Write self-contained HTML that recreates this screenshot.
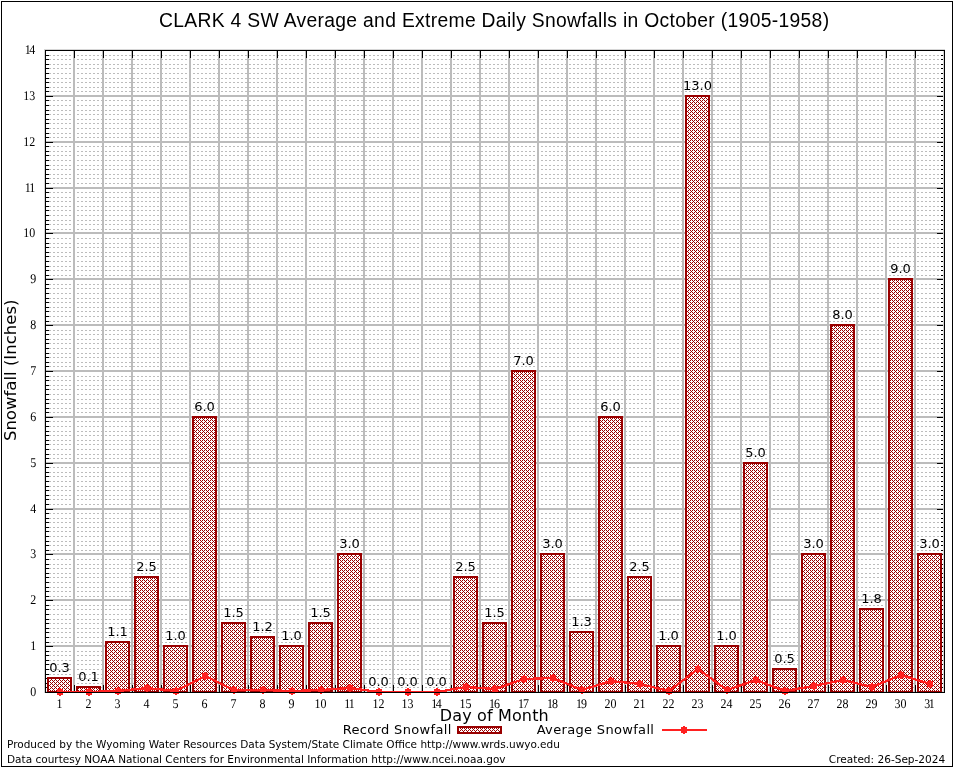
<!DOCTYPE html>
<html lang="en"><head><meta charset="utf-8"><title>CLARK 4 SW Average and Extreme Daily Snowfalls in October (1905-1958)</title>
<style>html,body{margin:0;padding:0;background:#fff}body{width:954px;height:768px;overflow:hidden}svg{display:block}.se{font-family:"Liberation Serif",serif;font-size:13.3px;fill:#000;text-rendering:geometricPrecision}.dj{font-family:"DejaVu Sans","Liberation Sans",sans-serif;fill:#000}.ti{font-family:"Liberation Sans",sans-serif;font-size:19.3px;letter-spacing:0.325px;fill:#000}</style></head><body>
<svg width="954" height="768" viewBox="0 0 954 768">
<defs>
<pattern id="dots" x="1" y="0" width="4" height="1" patternUnits="userSpaceOnUse"><rect x="0" y="0" width="2" height="1" fill="#bcbcbc"/></pattern>
<pattern id="hatch" x="0" y="0" width="4" height="4" patternUnits="userSpaceOnUse"><rect width="4" height="4" fill="#fff"/><rect x="0" y="0" width="1" height="1" fill="#990000"/><rect x="2" y="0" width="1" height="1" fill="#990000"/><rect x="1" y="1" width="1" height="1" fill="#990000"/><rect x="0" y="2" width="1" height="1" fill="#990000"/><rect x="2" y="2" width="1" height="1" fill="#990000"/><rect x="3" y="3" width="1" height="1" fill="#990000"/></pattern>
</defs>
<rect x="0" y="0" width="954" height="768" fill="#fff"/>
<g shape-rendering="crispEdges">
<rect x="1.5" y="1.5" width="951" height="765" fill="none" stroke="#000" stroke-width="1"/>
<rect x="46" y="687" width="898" height="1" fill="url(#dots)"/>
<rect x="46" y="683" width="898" height="1" fill="url(#dots)"/>
<rect x="46" y="678" width="898" height="1" fill="url(#dots)"/>
<rect x="46" y="674" width="898" height="1" fill="url(#dots)"/>
<rect x="46" y="669" width="898" height="1" fill="url(#dots)"/>
<rect x="46" y="664" width="898" height="1" fill="url(#dots)"/>
<rect x="46" y="660" width="898" height="1" fill="url(#dots)"/>
<rect x="46" y="655" width="898" height="1" fill="url(#dots)"/>
<rect x="46" y="651" width="898" height="1" fill="url(#dots)"/>
<rect x="46" y="642" width="898" height="1" fill="url(#dots)"/>
<rect x="46" y="637" width="898" height="1" fill="url(#dots)"/>
<rect x="46" y="632" width="898" height="1" fill="url(#dots)"/>
<rect x="46" y="628" width="898" height="1" fill="url(#dots)"/>
<rect x="46" y="623" width="898" height="1" fill="url(#dots)"/>
<rect x="46" y="619" width="898" height="1" fill="url(#dots)"/>
<rect x="46" y="614" width="898" height="1" fill="url(#dots)"/>
<rect x="46" y="609" width="898" height="1" fill="url(#dots)"/>
<rect x="46" y="605" width="898" height="1" fill="url(#dots)"/>
<rect x="46" y="596" width="898" height="1" fill="url(#dots)"/>
<rect x="46" y="591" width="898" height="1" fill="url(#dots)"/>
<rect x="46" y="587" width="898" height="1" fill="url(#dots)"/>
<rect x="46" y="582" width="898" height="1" fill="url(#dots)"/>
<rect x="46" y="577" width="898" height="1" fill="url(#dots)"/>
<rect x="46" y="573" width="898" height="1" fill="url(#dots)"/>
<rect x="46" y="568" width="898" height="1" fill="url(#dots)"/>
<rect x="46" y="564" width="898" height="1" fill="url(#dots)"/>
<rect x="46" y="559" width="898" height="1" fill="url(#dots)"/>
<rect x="46" y="550" width="898" height="1" fill="url(#dots)"/>
<rect x="46" y="545" width="898" height="1" fill="url(#dots)"/>
<rect x="46" y="541" width="898" height="1" fill="url(#dots)"/>
<rect x="46" y="536" width="898" height="1" fill="url(#dots)"/>
<rect x="46" y="531" width="898" height="1" fill="url(#dots)"/>
<rect x="46" y="527" width="898" height="1" fill="url(#dots)"/>
<rect x="46" y="522" width="898" height="1" fill="url(#dots)"/>
<rect x="46" y="518" width="898" height="1" fill="url(#dots)"/>
<rect x="46" y="513" width="898" height="1" fill="url(#dots)"/>
<rect x="46" y="504" width="898" height="1" fill="url(#dots)"/>
<rect x="46" y="499" width="898" height="1" fill="url(#dots)"/>
<rect x="46" y="495" width="898" height="1" fill="url(#dots)"/>
<rect x="46" y="490" width="898" height="1" fill="url(#dots)"/>
<rect x="46" y="486" width="898" height="1" fill="url(#dots)"/>
<rect x="46" y="481" width="898" height="1" fill="url(#dots)"/>
<rect x="46" y="476" width="898" height="1" fill="url(#dots)"/>
<rect x="46" y="472" width="898" height="1" fill="url(#dots)"/>
<rect x="46" y="467" width="898" height="1" fill="url(#dots)"/>
<rect x="46" y="458" width="898" height="1" fill="url(#dots)"/>
<rect x="46" y="454" width="898" height="1" fill="url(#dots)"/>
<rect x="46" y="449" width="898" height="1" fill="url(#dots)"/>
<rect x="46" y="444" width="898" height="1" fill="url(#dots)"/>
<rect x="46" y="440" width="898" height="1" fill="url(#dots)"/>
<rect x="46" y="435" width="898" height="1" fill="url(#dots)"/>
<rect x="46" y="431" width="898" height="1" fill="url(#dots)"/>
<rect x="46" y="426" width="898" height="1" fill="url(#dots)"/>
<rect x="46" y="421" width="898" height="1" fill="url(#dots)"/>
<rect x="46" y="412" width="898" height="1" fill="url(#dots)"/>
<rect x="46" y="408" width="898" height="1" fill="url(#dots)"/>
<rect x="46" y="403" width="898" height="1" fill="url(#dots)"/>
<rect x="46" y="399" width="898" height="1" fill="url(#dots)"/>
<rect x="46" y="394" width="898" height="1" fill="url(#dots)"/>
<rect x="46" y="389" width="898" height="1" fill="url(#dots)"/>
<rect x="46" y="385" width="898" height="1" fill="url(#dots)"/>
<rect x="46" y="380" width="898" height="1" fill="url(#dots)"/>
<rect x="46" y="376" width="898" height="1" fill="url(#dots)"/>
<rect x="46" y="366" width="898" height="1" fill="url(#dots)"/>
<rect x="46" y="362" width="898" height="1" fill="url(#dots)"/>
<rect x="46" y="357" width="898" height="1" fill="url(#dots)"/>
<rect x="46" y="353" width="898" height="1" fill="url(#dots)"/>
<rect x="46" y="348" width="898" height="1" fill="url(#dots)"/>
<rect x="46" y="343" width="898" height="1" fill="url(#dots)"/>
<rect x="46" y="339" width="898" height="1" fill="url(#dots)"/>
<rect x="46" y="334" width="898" height="1" fill="url(#dots)"/>
<rect x="46" y="330" width="898" height="1" fill="url(#dots)"/>
<rect x="46" y="321" width="898" height="1" fill="url(#dots)"/>
<rect x="46" y="316" width="898" height="1" fill="url(#dots)"/>
<rect x="46" y="311" width="898" height="1" fill="url(#dots)"/>
<rect x="46" y="307" width="898" height="1" fill="url(#dots)"/>
<rect x="46" y="302" width="898" height="1" fill="url(#dots)"/>
<rect x="46" y="298" width="898" height="1" fill="url(#dots)"/>
<rect x="46" y="293" width="898" height="1" fill="url(#dots)"/>
<rect x="46" y="288" width="898" height="1" fill="url(#dots)"/>
<rect x="46" y="284" width="898" height="1" fill="url(#dots)"/>
<rect x="46" y="275" width="898" height="1" fill="url(#dots)"/>
<rect x="46" y="270" width="898" height="1" fill="url(#dots)"/>
<rect x="46" y="266" width="898" height="1" fill="url(#dots)"/>
<rect x="46" y="261" width="898" height="1" fill="url(#dots)"/>
<rect x="46" y="256" width="898" height="1" fill="url(#dots)"/>
<rect x="46" y="252" width="898" height="1" fill="url(#dots)"/>
<rect x="46" y="247" width="898" height="1" fill="url(#dots)"/>
<rect x="46" y="243" width="898" height="1" fill="url(#dots)"/>
<rect x="46" y="238" width="898" height="1" fill="url(#dots)"/>
<rect x="46" y="229" width="898" height="1" fill="url(#dots)"/>
<rect x="46" y="224" width="898" height="1" fill="url(#dots)"/>
<rect x="46" y="220" width="898" height="1" fill="url(#dots)"/>
<rect x="46" y="215" width="898" height="1" fill="url(#dots)"/>
<rect x="46" y="210" width="898" height="1" fill="url(#dots)"/>
<rect x="46" y="206" width="898" height="1" fill="url(#dots)"/>
<rect x="46" y="201" width="898" height="1" fill="url(#dots)"/>
<rect x="46" y="197" width="898" height="1" fill="url(#dots)"/>
<rect x="46" y="192" width="898" height="1" fill="url(#dots)"/>
<rect x="46" y="183" width="898" height="1" fill="url(#dots)"/>
<rect x="46" y="178" width="898" height="1" fill="url(#dots)"/>
<rect x="46" y="174" width="898" height="1" fill="url(#dots)"/>
<rect x="46" y="169" width="898" height="1" fill="url(#dots)"/>
<rect x="46" y="165" width="898" height="1" fill="url(#dots)"/>
<rect x="46" y="160" width="898" height="1" fill="url(#dots)"/>
<rect x="46" y="155" width="898" height="1" fill="url(#dots)"/>
<rect x="46" y="151" width="898" height="1" fill="url(#dots)"/>
<rect x="46" y="146" width="898" height="1" fill="url(#dots)"/>
<rect x="46" y="137" width="898" height="1" fill="url(#dots)"/>
<rect x="46" y="133" width="898" height="1" fill="url(#dots)"/>
<rect x="46" y="128" width="898" height="1" fill="url(#dots)"/>
<rect x="46" y="123" width="898" height="1" fill="url(#dots)"/>
<rect x="46" y="119" width="898" height="1" fill="url(#dots)"/>
<rect x="46" y="114" width="898" height="1" fill="url(#dots)"/>
<rect x="46" y="110" width="898" height="1" fill="url(#dots)"/>
<rect x="46" y="105" width="898" height="1" fill="url(#dots)"/>
<rect x="46" y="100" width="898" height="1" fill="url(#dots)"/>
<rect x="46" y="91" width="898" height="1" fill="url(#dots)"/>
<rect x="46" y="87" width="898" height="1" fill="url(#dots)"/>
<rect x="46" y="82" width="898" height="1" fill="url(#dots)"/>
<rect x="46" y="78" width="898" height="1" fill="url(#dots)"/>
<rect x="46" y="73" width="898" height="1" fill="url(#dots)"/>
<rect x="46" y="68" width="898" height="1" fill="url(#dots)"/>
<rect x="46" y="64" width="898" height="1" fill="url(#dots)"/>
<rect x="46" y="59" width="898" height="1" fill="url(#dots)"/>
<rect x="46" y="55" width="898" height="1" fill="url(#dots)"/>
<rect x="44" y="691" width="901" height="2" fill="#d6d6d6"/>
<rect x="44" y="645" width="901" height="2" fill="#bcbcbc"/>
<rect x="44" y="599" width="901" height="2" fill="#bcbcbc"/>
<rect x="44" y="553" width="901" height="2" fill="#bcbcbc"/>
<rect x="44" y="508" width="901" height="2" fill="#bcbcbc"/>
<rect x="44" y="462" width="901" height="2" fill="#bcbcbc"/>
<rect x="44" y="416" width="901" height="2" fill="#bcbcbc"/>
<rect x="44" y="370" width="901" height="2" fill="#bcbcbc"/>
<rect x="44" y="324" width="901" height="2" fill="#bcbcbc"/>
<rect x="44" y="278" width="901" height="2" fill="#bcbcbc"/>
<rect x="44" y="232" width="901" height="2" fill="#bcbcbc"/>
<rect x="44" y="187" width="901" height="2" fill="#bcbcbc"/>
<rect x="44" y="141" width="901" height="2" fill="#bcbcbc"/>
<rect x="44" y="95" width="901" height="2" fill="#bcbcbc"/>
<rect x="44" y="49" width="901" height="2" fill="#d6d6d6"/>
<rect x="45" y="687" width="4" height="1" fill="#000"/>
<rect x="941" y="687" width="4" height="1" fill="#000"/>
<rect x="45" y="683" width="4" height="1" fill="#000"/>
<rect x="941" y="683" width="4" height="1" fill="#000"/>
<rect x="45" y="678" width="4" height="1" fill="#000"/>
<rect x="941" y="678" width="4" height="1" fill="#000"/>
<rect x="45" y="674" width="4" height="1" fill="#000"/>
<rect x="941" y="674" width="4" height="1" fill="#000"/>
<rect x="45" y="669" width="4" height="1" fill="#000"/>
<rect x="941" y="669" width="4" height="1" fill="#000"/>
<rect x="45" y="664" width="4" height="1" fill="#000"/>
<rect x="941" y="664" width="4" height="1" fill="#000"/>
<rect x="45" y="660" width="4" height="1" fill="#000"/>
<rect x="941" y="660" width="4" height="1" fill="#000"/>
<rect x="45" y="655" width="4" height="1" fill="#000"/>
<rect x="941" y="655" width="4" height="1" fill="#000"/>
<rect x="45" y="651" width="4" height="1" fill="#000"/>
<rect x="941" y="651" width="4" height="1" fill="#000"/>
<rect x="45" y="646" width="8" height="1" fill="#000"/>
<rect x="937" y="646" width="8" height="1" fill="#000"/>
<rect x="45" y="642" width="4" height="1" fill="#000"/>
<rect x="941" y="642" width="4" height="1" fill="#000"/>
<rect x="45" y="637" width="4" height="1" fill="#000"/>
<rect x="941" y="637" width="4" height="1" fill="#000"/>
<rect x="45" y="632" width="4" height="1" fill="#000"/>
<rect x="941" y="632" width="4" height="1" fill="#000"/>
<rect x="45" y="628" width="4" height="1" fill="#000"/>
<rect x="941" y="628" width="4" height="1" fill="#000"/>
<rect x="45" y="623" width="4" height="1" fill="#000"/>
<rect x="941" y="623" width="4" height="1" fill="#000"/>
<rect x="45" y="619" width="4" height="1" fill="#000"/>
<rect x="941" y="619" width="4" height="1" fill="#000"/>
<rect x="45" y="614" width="4" height="1" fill="#000"/>
<rect x="941" y="614" width="4" height="1" fill="#000"/>
<rect x="45" y="609" width="4" height="1" fill="#000"/>
<rect x="941" y="609" width="4" height="1" fill="#000"/>
<rect x="45" y="605" width="4" height="1" fill="#000"/>
<rect x="941" y="605" width="4" height="1" fill="#000"/>
<rect x="45" y="600" width="8" height="1" fill="#000"/>
<rect x="937" y="600" width="8" height="1" fill="#000"/>
<rect x="45" y="596" width="4" height="1" fill="#000"/>
<rect x="941" y="596" width="4" height="1" fill="#000"/>
<rect x="45" y="591" width="4" height="1" fill="#000"/>
<rect x="941" y="591" width="4" height="1" fill="#000"/>
<rect x="45" y="587" width="4" height="1" fill="#000"/>
<rect x="941" y="587" width="4" height="1" fill="#000"/>
<rect x="45" y="582" width="4" height="1" fill="#000"/>
<rect x="941" y="582" width="4" height="1" fill="#000"/>
<rect x="45" y="577" width="4" height="1" fill="#000"/>
<rect x="941" y="577" width="4" height="1" fill="#000"/>
<rect x="45" y="573" width="4" height="1" fill="#000"/>
<rect x="941" y="573" width="4" height="1" fill="#000"/>
<rect x="45" y="568" width="4" height="1" fill="#000"/>
<rect x="941" y="568" width="4" height="1" fill="#000"/>
<rect x="45" y="564" width="4" height="1" fill="#000"/>
<rect x="941" y="564" width="4" height="1" fill="#000"/>
<rect x="45" y="559" width="4" height="1" fill="#000"/>
<rect x="941" y="559" width="4" height="1" fill="#000"/>
<rect x="45" y="554" width="8" height="1" fill="#000"/>
<rect x="937" y="554" width="8" height="1" fill="#000"/>
<rect x="45" y="550" width="4" height="1" fill="#000"/>
<rect x="941" y="550" width="4" height="1" fill="#000"/>
<rect x="45" y="545" width="4" height="1" fill="#000"/>
<rect x="941" y="545" width="4" height="1" fill="#000"/>
<rect x="45" y="541" width="4" height="1" fill="#000"/>
<rect x="941" y="541" width="4" height="1" fill="#000"/>
<rect x="45" y="536" width="4" height="1" fill="#000"/>
<rect x="941" y="536" width="4" height="1" fill="#000"/>
<rect x="45" y="531" width="4" height="1" fill="#000"/>
<rect x="941" y="531" width="4" height="1" fill="#000"/>
<rect x="45" y="527" width="4" height="1" fill="#000"/>
<rect x="941" y="527" width="4" height="1" fill="#000"/>
<rect x="45" y="522" width="4" height="1" fill="#000"/>
<rect x="941" y="522" width="4" height="1" fill="#000"/>
<rect x="45" y="518" width="4" height="1" fill="#000"/>
<rect x="941" y="518" width="4" height="1" fill="#000"/>
<rect x="45" y="513" width="4" height="1" fill="#000"/>
<rect x="941" y="513" width="4" height="1" fill="#000"/>
<rect x="45" y="509" width="8" height="1" fill="#000"/>
<rect x="937" y="509" width="8" height="1" fill="#000"/>
<rect x="45" y="504" width="4" height="1" fill="#000"/>
<rect x="941" y="504" width="4" height="1" fill="#000"/>
<rect x="45" y="499" width="4" height="1" fill="#000"/>
<rect x="941" y="499" width="4" height="1" fill="#000"/>
<rect x="45" y="495" width="4" height="1" fill="#000"/>
<rect x="941" y="495" width="4" height="1" fill="#000"/>
<rect x="45" y="490" width="4" height="1" fill="#000"/>
<rect x="941" y="490" width="4" height="1" fill="#000"/>
<rect x="45" y="486" width="4" height="1" fill="#000"/>
<rect x="941" y="486" width="4" height="1" fill="#000"/>
<rect x="45" y="481" width="4" height="1" fill="#000"/>
<rect x="941" y="481" width="4" height="1" fill="#000"/>
<rect x="45" y="476" width="4" height="1" fill="#000"/>
<rect x="941" y="476" width="4" height="1" fill="#000"/>
<rect x="45" y="472" width="4" height="1" fill="#000"/>
<rect x="941" y="472" width="4" height="1" fill="#000"/>
<rect x="45" y="467" width="4" height="1" fill="#000"/>
<rect x="941" y="467" width="4" height="1" fill="#000"/>
<rect x="45" y="463" width="8" height="1" fill="#000"/>
<rect x="937" y="463" width="8" height="1" fill="#000"/>
<rect x="45" y="458" width="4" height="1" fill="#000"/>
<rect x="941" y="458" width="4" height="1" fill="#000"/>
<rect x="45" y="454" width="4" height="1" fill="#000"/>
<rect x="941" y="454" width="4" height="1" fill="#000"/>
<rect x="45" y="449" width="4" height="1" fill="#000"/>
<rect x="941" y="449" width="4" height="1" fill="#000"/>
<rect x="45" y="444" width="4" height="1" fill="#000"/>
<rect x="941" y="444" width="4" height="1" fill="#000"/>
<rect x="45" y="440" width="4" height="1" fill="#000"/>
<rect x="941" y="440" width="4" height="1" fill="#000"/>
<rect x="45" y="435" width="4" height="1" fill="#000"/>
<rect x="941" y="435" width="4" height="1" fill="#000"/>
<rect x="45" y="431" width="4" height="1" fill="#000"/>
<rect x="941" y="431" width="4" height="1" fill="#000"/>
<rect x="45" y="426" width="4" height="1" fill="#000"/>
<rect x="941" y="426" width="4" height="1" fill="#000"/>
<rect x="45" y="421" width="4" height="1" fill="#000"/>
<rect x="941" y="421" width="4" height="1" fill="#000"/>
<rect x="45" y="417" width="8" height="1" fill="#000"/>
<rect x="937" y="417" width="8" height="1" fill="#000"/>
<rect x="45" y="412" width="4" height="1" fill="#000"/>
<rect x="941" y="412" width="4" height="1" fill="#000"/>
<rect x="45" y="408" width="4" height="1" fill="#000"/>
<rect x="941" y="408" width="4" height="1" fill="#000"/>
<rect x="45" y="403" width="4" height="1" fill="#000"/>
<rect x="941" y="403" width="4" height="1" fill="#000"/>
<rect x="45" y="399" width="4" height="1" fill="#000"/>
<rect x="941" y="399" width="4" height="1" fill="#000"/>
<rect x="45" y="394" width="4" height="1" fill="#000"/>
<rect x="941" y="394" width="4" height="1" fill="#000"/>
<rect x="45" y="389" width="4" height="1" fill="#000"/>
<rect x="941" y="389" width="4" height="1" fill="#000"/>
<rect x="45" y="385" width="4" height="1" fill="#000"/>
<rect x="941" y="385" width="4" height="1" fill="#000"/>
<rect x="45" y="380" width="4" height="1" fill="#000"/>
<rect x="941" y="380" width="4" height="1" fill="#000"/>
<rect x="45" y="376" width="4" height="1" fill="#000"/>
<rect x="941" y="376" width="4" height="1" fill="#000"/>
<rect x="45" y="371" width="8" height="1" fill="#000"/>
<rect x="937" y="371" width="8" height="1" fill="#000"/>
<rect x="45" y="366" width="4" height="1" fill="#000"/>
<rect x="941" y="366" width="4" height="1" fill="#000"/>
<rect x="45" y="362" width="4" height="1" fill="#000"/>
<rect x="941" y="362" width="4" height="1" fill="#000"/>
<rect x="45" y="357" width="4" height="1" fill="#000"/>
<rect x="941" y="357" width="4" height="1" fill="#000"/>
<rect x="45" y="353" width="4" height="1" fill="#000"/>
<rect x="941" y="353" width="4" height="1" fill="#000"/>
<rect x="45" y="348" width="4" height="1" fill="#000"/>
<rect x="941" y="348" width="4" height="1" fill="#000"/>
<rect x="45" y="343" width="4" height="1" fill="#000"/>
<rect x="941" y="343" width="4" height="1" fill="#000"/>
<rect x="45" y="339" width="4" height="1" fill="#000"/>
<rect x="941" y="339" width="4" height="1" fill="#000"/>
<rect x="45" y="334" width="4" height="1" fill="#000"/>
<rect x="941" y="334" width="4" height="1" fill="#000"/>
<rect x="45" y="330" width="4" height="1" fill="#000"/>
<rect x="941" y="330" width="4" height="1" fill="#000"/>
<rect x="45" y="325" width="8" height="1" fill="#000"/>
<rect x="937" y="325" width="8" height="1" fill="#000"/>
<rect x="45" y="321" width="4" height="1" fill="#000"/>
<rect x="941" y="321" width="4" height="1" fill="#000"/>
<rect x="45" y="316" width="4" height="1" fill="#000"/>
<rect x="941" y="316" width="4" height="1" fill="#000"/>
<rect x="45" y="311" width="4" height="1" fill="#000"/>
<rect x="941" y="311" width="4" height="1" fill="#000"/>
<rect x="45" y="307" width="4" height="1" fill="#000"/>
<rect x="941" y="307" width="4" height="1" fill="#000"/>
<rect x="45" y="302" width="4" height="1" fill="#000"/>
<rect x="941" y="302" width="4" height="1" fill="#000"/>
<rect x="45" y="298" width="4" height="1" fill="#000"/>
<rect x="941" y="298" width="4" height="1" fill="#000"/>
<rect x="45" y="293" width="4" height="1" fill="#000"/>
<rect x="941" y="293" width="4" height="1" fill="#000"/>
<rect x="45" y="288" width="4" height="1" fill="#000"/>
<rect x="941" y="288" width="4" height="1" fill="#000"/>
<rect x="45" y="284" width="4" height="1" fill="#000"/>
<rect x="941" y="284" width="4" height="1" fill="#000"/>
<rect x="45" y="279" width="8" height="1" fill="#000"/>
<rect x="937" y="279" width="8" height="1" fill="#000"/>
<rect x="45" y="275" width="4" height="1" fill="#000"/>
<rect x="941" y="275" width="4" height="1" fill="#000"/>
<rect x="45" y="270" width="4" height="1" fill="#000"/>
<rect x="941" y="270" width="4" height="1" fill="#000"/>
<rect x="45" y="266" width="4" height="1" fill="#000"/>
<rect x="941" y="266" width="4" height="1" fill="#000"/>
<rect x="45" y="261" width="4" height="1" fill="#000"/>
<rect x="941" y="261" width="4" height="1" fill="#000"/>
<rect x="45" y="256" width="4" height="1" fill="#000"/>
<rect x="941" y="256" width="4" height="1" fill="#000"/>
<rect x="45" y="252" width="4" height="1" fill="#000"/>
<rect x="941" y="252" width="4" height="1" fill="#000"/>
<rect x="45" y="247" width="4" height="1" fill="#000"/>
<rect x="941" y="247" width="4" height="1" fill="#000"/>
<rect x="45" y="243" width="4" height="1" fill="#000"/>
<rect x="941" y="243" width="4" height="1" fill="#000"/>
<rect x="45" y="238" width="4" height="1" fill="#000"/>
<rect x="941" y="238" width="4" height="1" fill="#000"/>
<rect x="45" y="233" width="8" height="1" fill="#000"/>
<rect x="937" y="233" width="8" height="1" fill="#000"/>
<rect x="45" y="229" width="4" height="1" fill="#000"/>
<rect x="941" y="229" width="4" height="1" fill="#000"/>
<rect x="45" y="224" width="4" height="1" fill="#000"/>
<rect x="941" y="224" width="4" height="1" fill="#000"/>
<rect x="45" y="220" width="4" height="1" fill="#000"/>
<rect x="941" y="220" width="4" height="1" fill="#000"/>
<rect x="45" y="215" width="4" height="1" fill="#000"/>
<rect x="941" y="215" width="4" height="1" fill="#000"/>
<rect x="45" y="210" width="4" height="1" fill="#000"/>
<rect x="941" y="210" width="4" height="1" fill="#000"/>
<rect x="45" y="206" width="4" height="1" fill="#000"/>
<rect x="941" y="206" width="4" height="1" fill="#000"/>
<rect x="45" y="201" width="4" height="1" fill="#000"/>
<rect x="941" y="201" width="4" height="1" fill="#000"/>
<rect x="45" y="197" width="4" height="1" fill="#000"/>
<rect x="941" y="197" width="4" height="1" fill="#000"/>
<rect x="45" y="192" width="4" height="1" fill="#000"/>
<rect x="941" y="192" width="4" height="1" fill="#000"/>
<rect x="45" y="188" width="8" height="1" fill="#000"/>
<rect x="937" y="188" width="8" height="1" fill="#000"/>
<rect x="45" y="183" width="4" height="1" fill="#000"/>
<rect x="941" y="183" width="4" height="1" fill="#000"/>
<rect x="45" y="178" width="4" height="1" fill="#000"/>
<rect x="941" y="178" width="4" height="1" fill="#000"/>
<rect x="45" y="174" width="4" height="1" fill="#000"/>
<rect x="941" y="174" width="4" height="1" fill="#000"/>
<rect x="45" y="169" width="4" height="1" fill="#000"/>
<rect x="941" y="169" width="4" height="1" fill="#000"/>
<rect x="45" y="165" width="4" height="1" fill="#000"/>
<rect x="941" y="165" width="4" height="1" fill="#000"/>
<rect x="45" y="160" width="4" height="1" fill="#000"/>
<rect x="941" y="160" width="4" height="1" fill="#000"/>
<rect x="45" y="155" width="4" height="1" fill="#000"/>
<rect x="941" y="155" width="4" height="1" fill="#000"/>
<rect x="45" y="151" width="4" height="1" fill="#000"/>
<rect x="941" y="151" width="4" height="1" fill="#000"/>
<rect x="45" y="146" width="4" height="1" fill="#000"/>
<rect x="941" y="146" width="4" height="1" fill="#000"/>
<rect x="45" y="142" width="8" height="1" fill="#000"/>
<rect x="937" y="142" width="8" height="1" fill="#000"/>
<rect x="45" y="137" width="4" height="1" fill="#000"/>
<rect x="941" y="137" width="4" height="1" fill="#000"/>
<rect x="45" y="133" width="4" height="1" fill="#000"/>
<rect x="941" y="133" width="4" height="1" fill="#000"/>
<rect x="45" y="128" width="4" height="1" fill="#000"/>
<rect x="941" y="128" width="4" height="1" fill="#000"/>
<rect x="45" y="123" width="4" height="1" fill="#000"/>
<rect x="941" y="123" width="4" height="1" fill="#000"/>
<rect x="45" y="119" width="4" height="1" fill="#000"/>
<rect x="941" y="119" width="4" height="1" fill="#000"/>
<rect x="45" y="114" width="4" height="1" fill="#000"/>
<rect x="941" y="114" width="4" height="1" fill="#000"/>
<rect x="45" y="110" width="4" height="1" fill="#000"/>
<rect x="941" y="110" width="4" height="1" fill="#000"/>
<rect x="45" y="105" width="4" height="1" fill="#000"/>
<rect x="941" y="105" width="4" height="1" fill="#000"/>
<rect x="45" y="100" width="4" height="1" fill="#000"/>
<rect x="941" y="100" width="4" height="1" fill="#000"/>
<rect x="45" y="96" width="8" height="1" fill="#000"/>
<rect x="937" y="96" width="8" height="1" fill="#000"/>
<rect x="45" y="91" width="4" height="1" fill="#000"/>
<rect x="941" y="91" width="4" height="1" fill="#000"/>
<rect x="45" y="87" width="4" height="1" fill="#000"/>
<rect x="941" y="87" width="4" height="1" fill="#000"/>
<rect x="45" y="82" width="4" height="1" fill="#000"/>
<rect x="941" y="82" width="4" height="1" fill="#000"/>
<rect x="45" y="78" width="4" height="1" fill="#000"/>
<rect x="941" y="78" width="4" height="1" fill="#000"/>
<rect x="45" y="73" width="4" height="1" fill="#000"/>
<rect x="941" y="73" width="4" height="1" fill="#000"/>
<rect x="45" y="68" width="4" height="1" fill="#000"/>
<rect x="941" y="68" width="4" height="1" fill="#000"/>
<rect x="45" y="64" width="4" height="1" fill="#000"/>
<rect x="941" y="64" width="4" height="1" fill="#000"/>
<rect x="45" y="59" width="4" height="1" fill="#000"/>
<rect x="941" y="59" width="4" height="1" fill="#000"/>
<rect x="45" y="55" width="4" height="1" fill="#000"/>
<rect x="941" y="55" width="4" height="1" fill="#000"/>
<rect x="44" y="50" width="2" height="643" fill="#d6d6d6"/>
<rect x="73" y="50" width="2" height="643" fill="#bcbcbc"/>
<rect x="102" y="50" width="2" height="643" fill="#bcbcbc"/>
<rect x="131" y="50" width="2" height="643" fill="#bcbcbc"/>
<rect x="160" y="50" width="2" height="643" fill="#bcbcbc"/>
<rect x="189" y="50" width="2" height="643" fill="#bcbcbc"/>
<rect x="218" y="50" width="2" height="643" fill="#bcbcbc"/>
<rect x="247" y="50" width="2" height="643" fill="#bcbcbc"/>
<rect x="276" y="50" width="2" height="643" fill="#bcbcbc"/>
<rect x="305" y="50" width="2" height="643" fill="#bcbcbc"/>
<rect x="334" y="50" width="2" height="643" fill="#bcbcbc"/>
<rect x="363" y="50" width="2" height="643" fill="#bcbcbc"/>
<rect x="392" y="50" width="2" height="643" fill="#bcbcbc"/>
<rect x="421" y="50" width="2" height="643" fill="#bcbcbc"/>
<rect x="450" y="50" width="2" height="643" fill="#bcbcbc"/>
<rect x="479" y="50" width="2" height="643" fill="#bcbcbc"/>
<rect x="508" y="50" width="2" height="643" fill="#bcbcbc"/>
<rect x="537" y="50" width="2" height="643" fill="#bcbcbc"/>
<rect x="566" y="50" width="2" height="643" fill="#bcbcbc"/>
<rect x="595" y="50" width="2" height="643" fill="#bcbcbc"/>
<rect x="624" y="50" width="2" height="643" fill="#bcbcbc"/>
<rect x="653" y="50" width="2" height="643" fill="#bcbcbc"/>
<rect x="682" y="50" width="2" height="643" fill="#bcbcbc"/>
<rect x="711" y="50" width="2" height="643" fill="#bcbcbc"/>
<rect x="740" y="50" width="2" height="643" fill="#bcbcbc"/>
<rect x="769" y="50" width="2" height="643" fill="#bcbcbc"/>
<rect x="798" y="50" width="2" height="643" fill="#bcbcbc"/>
<rect x="827" y="50" width="2" height="643" fill="#bcbcbc"/>
<rect x="856" y="50" width="2" height="643" fill="#bcbcbc"/>
<rect x="885" y="50" width="2" height="643" fill="#bcbcbc"/>
<rect x="914" y="50" width="2" height="643" fill="#bcbcbc"/>
<rect x="943" y="50" width="2" height="643" fill="#d6d6d6"/>
<rect x="74" y="50" width="1" height="8" fill="#000"/>
<rect x="74" y="685" width="1" height="8" fill="#000"/>
<rect x="103" y="50" width="1" height="8" fill="#000"/>
<rect x="103" y="685" width="1" height="8" fill="#000"/>
<rect x="132" y="50" width="1" height="8" fill="#000"/>
<rect x="132" y="685" width="1" height="8" fill="#000"/>
<rect x="161" y="50" width="1" height="8" fill="#000"/>
<rect x="161" y="685" width="1" height="8" fill="#000"/>
<rect x="190" y="50" width="1" height="8" fill="#000"/>
<rect x="190" y="685" width="1" height="8" fill="#000"/>
<rect x="219" y="50" width="1" height="8" fill="#000"/>
<rect x="219" y="685" width="1" height="8" fill="#000"/>
<rect x="248" y="50" width="1" height="8" fill="#000"/>
<rect x="248" y="685" width="1" height="8" fill="#000"/>
<rect x="277" y="50" width="1" height="8" fill="#000"/>
<rect x="277" y="685" width="1" height="8" fill="#000"/>
<rect x="306" y="50" width="1" height="8" fill="#000"/>
<rect x="306" y="685" width="1" height="8" fill="#000"/>
<rect x="335" y="50" width="1" height="8" fill="#000"/>
<rect x="335" y="685" width="1" height="8" fill="#000"/>
<rect x="364" y="50" width="1" height="8" fill="#000"/>
<rect x="364" y="685" width="1" height="8" fill="#000"/>
<rect x="393" y="50" width="1" height="8" fill="#000"/>
<rect x="393" y="685" width="1" height="8" fill="#000"/>
<rect x="422" y="50" width="1" height="8" fill="#000"/>
<rect x="422" y="685" width="1" height="8" fill="#000"/>
<rect x="451" y="50" width="1" height="8" fill="#000"/>
<rect x="451" y="685" width="1" height="8" fill="#000"/>
<rect x="480" y="50" width="1" height="8" fill="#000"/>
<rect x="480" y="685" width="1" height="8" fill="#000"/>
<rect x="509" y="50" width="1" height="8" fill="#000"/>
<rect x="509" y="685" width="1" height="8" fill="#000"/>
<rect x="538" y="50" width="1" height="8" fill="#000"/>
<rect x="538" y="685" width="1" height="8" fill="#000"/>
<rect x="567" y="50" width="1" height="8" fill="#000"/>
<rect x="567" y="685" width="1" height="8" fill="#000"/>
<rect x="596" y="50" width="1" height="8" fill="#000"/>
<rect x="596" y="685" width="1" height="8" fill="#000"/>
<rect x="625" y="50" width="1" height="8" fill="#000"/>
<rect x="625" y="685" width="1" height="8" fill="#000"/>
<rect x="654" y="50" width="1" height="8" fill="#000"/>
<rect x="654" y="685" width="1" height="8" fill="#000"/>
<rect x="683" y="50" width="1" height="8" fill="#000"/>
<rect x="683" y="685" width="1" height="8" fill="#000"/>
<rect x="712" y="50" width="1" height="8" fill="#000"/>
<rect x="712" y="685" width="1" height="8" fill="#000"/>
<rect x="741" y="50" width="1" height="8" fill="#000"/>
<rect x="741" y="685" width="1" height="8" fill="#000"/>
<rect x="770" y="50" width="1" height="8" fill="#000"/>
<rect x="770" y="685" width="1" height="8" fill="#000"/>
<rect x="799" y="50" width="1" height="8" fill="#000"/>
<rect x="799" y="685" width="1" height="8" fill="#000"/>
<rect x="828" y="50" width="1" height="8" fill="#000"/>
<rect x="828" y="685" width="1" height="8" fill="#000"/>
<rect x="857" y="50" width="1" height="8" fill="#000"/>
<rect x="857" y="685" width="1" height="8" fill="#000"/>
<rect x="886" y="50" width="1" height="8" fill="#000"/>
<rect x="886" y="685" width="1" height="8" fill="#000"/>
<rect x="915" y="50" width="1" height="8" fill="#000"/>
<rect x="915" y="685" width="1" height="8" fill="#000"/>
<rect x="47" y="677" width="25" height="16" fill="url(#hatch)"/>
<rect x="48" y="678" width="23" height="14" fill="none" stroke="#990000" stroke-width="2"/>
<rect x="76" y="686" width="25" height="7" fill="url(#hatch)"/>
<rect x="77" y="687" width="23" height="5" fill="none" stroke="#990000" stroke-width="2"/>
<rect x="105" y="641" width="25" height="52" fill="url(#hatch)"/>
<rect x="106" y="642" width="23" height="50" fill="none" stroke="#990000" stroke-width="2"/>
<rect x="134" y="576" width="25" height="117" fill="url(#hatch)"/>
<rect x="135" y="577" width="23" height="115" fill="none" stroke="#990000" stroke-width="2"/>
<rect x="163" y="645" width="25" height="48" fill="url(#hatch)"/>
<rect x="164" y="646" width="23" height="46" fill="none" stroke="#990000" stroke-width="2"/>
<rect x="192" y="416" width="25" height="277" fill="url(#hatch)"/>
<rect x="193" y="417" width="23" height="275" fill="none" stroke="#990000" stroke-width="2"/>
<rect x="221" y="622" width="25" height="71" fill="url(#hatch)"/>
<rect x="222" y="623" width="23" height="69" fill="none" stroke="#990000" stroke-width="2"/>
<rect x="250" y="636" width="25" height="57" fill="url(#hatch)"/>
<rect x="251" y="637" width="23" height="55" fill="none" stroke="#990000" stroke-width="2"/>
<rect x="279" y="645" width="25" height="48" fill="url(#hatch)"/>
<rect x="280" y="646" width="23" height="46" fill="none" stroke="#990000" stroke-width="2"/>
<rect x="308" y="622" width="25" height="71" fill="url(#hatch)"/>
<rect x="309" y="623" width="23" height="69" fill="none" stroke="#990000" stroke-width="2"/>
<rect x="337" y="553" width="25" height="140" fill="url(#hatch)"/>
<rect x="338" y="554" width="23" height="138" fill="none" stroke="#990000" stroke-width="2"/>
<rect x="453" y="576" width="25" height="117" fill="url(#hatch)"/>
<rect x="454" y="577" width="23" height="115" fill="none" stroke="#990000" stroke-width="2"/>
<rect x="482" y="622" width="25" height="71" fill="url(#hatch)"/>
<rect x="483" y="623" width="23" height="69" fill="none" stroke="#990000" stroke-width="2"/>
<rect x="511" y="370" width="25" height="323" fill="url(#hatch)"/>
<rect x="512" y="371" width="23" height="321" fill="none" stroke="#990000" stroke-width="2"/>
<rect x="540" y="553" width="25" height="140" fill="url(#hatch)"/>
<rect x="541" y="554" width="23" height="138" fill="none" stroke="#990000" stroke-width="2"/>
<rect x="569" y="631" width="25" height="62" fill="url(#hatch)"/>
<rect x="570" y="632" width="23" height="60" fill="none" stroke="#990000" stroke-width="2"/>
<rect x="598" y="416" width="25" height="277" fill="url(#hatch)"/>
<rect x="599" y="417" width="23" height="275" fill="none" stroke="#990000" stroke-width="2"/>
<rect x="627" y="576" width="25" height="117" fill="url(#hatch)"/>
<rect x="628" y="577" width="23" height="115" fill="none" stroke="#990000" stroke-width="2"/>
<rect x="656" y="645" width="25" height="48" fill="url(#hatch)"/>
<rect x="657" y="646" width="23" height="46" fill="none" stroke="#990000" stroke-width="2"/>
<rect x="685" y="95" width="25" height="598" fill="url(#hatch)"/>
<rect x="686" y="96" width="23" height="596" fill="none" stroke="#990000" stroke-width="2"/>
<rect x="714" y="645" width="25" height="48" fill="url(#hatch)"/>
<rect x="715" y="646" width="23" height="46" fill="none" stroke="#990000" stroke-width="2"/>
<rect x="743" y="462" width="25" height="231" fill="url(#hatch)"/>
<rect x="744" y="463" width="23" height="229" fill="none" stroke="#990000" stroke-width="2"/>
<rect x="772" y="668" width="25" height="25" fill="url(#hatch)"/>
<rect x="773" y="669" width="23" height="23" fill="none" stroke="#990000" stroke-width="2"/>
<rect x="801" y="553" width="25" height="140" fill="url(#hatch)"/>
<rect x="802" y="554" width="23" height="138" fill="none" stroke="#990000" stroke-width="2"/>
<rect x="830" y="324" width="25" height="369" fill="url(#hatch)"/>
<rect x="831" y="325" width="23" height="367" fill="none" stroke="#990000" stroke-width="2"/>
<rect x="859" y="608" width="25" height="85" fill="url(#hatch)"/>
<rect x="860" y="609" width="23" height="83" fill="none" stroke="#990000" stroke-width="2"/>
<rect x="888" y="278" width="25" height="415" fill="url(#hatch)"/>
<rect x="889" y="279" width="23" height="413" fill="none" stroke="#990000" stroke-width="2"/>
<rect x="917" y="553" width="25" height="140" fill="url(#hatch)"/>
<rect x="918" y="554" width="23" height="138" fill="none" stroke="#990000" stroke-width="2"/>
<rect x="457" y="726" width="45" height="8" fill="url(#hatch)"/>
<rect x="458" y="727" width="43" height="6" fill="none" stroke="#990000" stroke-width="2"/>
</g>
<polyline points="60,692 89,692 118,691 147,688 176,691 205,676 234,690 263,690 292,691 321,690 350,688 379,692 408,692 437,692 466,687 495,689 524,679 553,678 582,690 611,681 640,684 669,691 698,669 727,690 756,680 785,691 814,686 843,680 872,687 901,675 930,684" fill="none" stroke="#ff2020" stroke-width="2.3" stroke-linejoin="round" shape-rendering="crispEdges"/>
<path d="M59 688h2v1h2v6h-2v1h-2v-1h-2v-6h2z" fill="#ff2020" shape-rendering="crispEdges"/>
<path d="M88 688h2v1h2v6h-2v1h-2v-1h-2v-6h2z" fill="#ff2020" shape-rendering="crispEdges"/>
<path d="M117 687h2v1h2v6h-2v1h-2v-1h-2v-6h2z" fill="#ff2020" shape-rendering="crispEdges"/>
<path d="M146 684h2v1h2v6h-2v1h-2v-1h-2v-6h2z" fill="#ff2020" shape-rendering="crispEdges"/>
<path d="M175 687h2v1h2v6h-2v1h-2v-1h-2v-6h2z" fill="#ff2020" shape-rendering="crispEdges"/>
<path d="M204 672h2v1h2v6h-2v1h-2v-1h-2v-6h2z" fill="#ff2020" shape-rendering="crispEdges"/>
<path d="M233 686h2v1h2v6h-2v1h-2v-1h-2v-6h2z" fill="#ff2020" shape-rendering="crispEdges"/>
<path d="M262 686h2v1h2v6h-2v1h-2v-1h-2v-6h2z" fill="#ff2020" shape-rendering="crispEdges"/>
<path d="M291 687h2v1h2v6h-2v1h-2v-1h-2v-6h2z" fill="#ff2020" shape-rendering="crispEdges"/>
<path d="M320 686h2v1h2v6h-2v1h-2v-1h-2v-6h2z" fill="#ff2020" shape-rendering="crispEdges"/>
<path d="M349 684h2v1h2v6h-2v1h-2v-1h-2v-6h2z" fill="#ff2020" shape-rendering="crispEdges"/>
<path d="M378 688h2v1h2v6h-2v1h-2v-1h-2v-6h2z" fill="#ff2020" shape-rendering="crispEdges"/>
<path d="M407 688h2v1h2v6h-2v1h-2v-1h-2v-6h2z" fill="#ff2020" shape-rendering="crispEdges"/>
<path d="M436 688h2v1h2v6h-2v1h-2v-1h-2v-6h2z" fill="#ff2020" shape-rendering="crispEdges"/>
<path d="M465 683h2v1h2v6h-2v1h-2v-1h-2v-6h2z" fill="#ff2020" shape-rendering="crispEdges"/>
<path d="M494 685h2v1h2v6h-2v1h-2v-1h-2v-6h2z" fill="#ff2020" shape-rendering="crispEdges"/>
<path d="M523 675h2v1h2v6h-2v1h-2v-1h-2v-6h2z" fill="#ff2020" shape-rendering="crispEdges"/>
<path d="M552 674h2v1h2v6h-2v1h-2v-1h-2v-6h2z" fill="#ff2020" shape-rendering="crispEdges"/>
<path d="M581 686h2v1h2v6h-2v1h-2v-1h-2v-6h2z" fill="#ff2020" shape-rendering="crispEdges"/>
<path d="M610 677h2v1h2v6h-2v1h-2v-1h-2v-6h2z" fill="#ff2020" shape-rendering="crispEdges"/>
<path d="M639 680h2v1h2v6h-2v1h-2v-1h-2v-6h2z" fill="#ff2020" shape-rendering="crispEdges"/>
<path d="M668 687h2v1h2v6h-2v1h-2v-1h-2v-6h2z" fill="#ff2020" shape-rendering="crispEdges"/>
<path d="M697 665h2v1h2v6h-2v1h-2v-1h-2v-6h2z" fill="#ff2020" shape-rendering="crispEdges"/>
<path d="M726 686h2v1h2v6h-2v1h-2v-1h-2v-6h2z" fill="#ff2020" shape-rendering="crispEdges"/>
<path d="M755 676h2v1h2v6h-2v1h-2v-1h-2v-6h2z" fill="#ff2020" shape-rendering="crispEdges"/>
<path d="M784 687h2v1h2v6h-2v1h-2v-1h-2v-6h2z" fill="#ff2020" shape-rendering="crispEdges"/>
<path d="M813 682h2v1h2v6h-2v1h-2v-1h-2v-6h2z" fill="#ff2020" shape-rendering="crispEdges"/>
<path d="M842 676h2v1h2v6h-2v1h-2v-1h-2v-6h2z" fill="#ff2020" shape-rendering="crispEdges"/>
<path d="M871 683h2v1h2v6h-2v1h-2v-1h-2v-6h2z" fill="#ff2020" shape-rendering="crispEdges"/>
<path d="M900 671h2v1h2v6h-2v1h-2v-1h-2v-6h2z" fill="#ff2020" shape-rendering="crispEdges"/>
<path d="M929 680h2v1h2v6h-2v1h-2v-1h-2v-6h2z" fill="#ff2020" shape-rendering="crispEdges"/>
<rect x="662" y="729" width="45" height="2" fill="#ff2020" shape-rendering="crispEdges"/>
<path d="M683 726h2v1h2v6h-2v1h-2v-1h-2v-6h2z" fill="#ff2020" shape-rendering="crispEdges"/>
<rect x="45.5" y="50.5" width="899" height="642" fill="none" stroke="#000" stroke-width="1" shape-rendering="crispEdges"/>
<text class="ti" x="494.2" y="26.5" text-anchor="middle">CLARK 4 SW Average and Extreme Daily Snowfalls in October (1905-1958)</text>
<text class="se" transform="translate(36.3,696.2) scale(0.9,1)" text-anchor="end">0</text>
<text class="se" transform="translate(36.3,650.2) scale(0.9,1)" text-anchor="end">1</text>
<text class="se" transform="translate(36.3,604.2) scale(0.9,1)" text-anchor="end">2</text>
<text class="se" transform="translate(36.3,558.2) scale(0.9,1)" text-anchor="end">3</text>
<text class="se" transform="translate(36.3,513.2) scale(0.9,1)" text-anchor="end">4</text>
<text class="se" transform="translate(36.3,467.2) scale(0.9,1)" text-anchor="end">5</text>
<text class="se" transform="translate(36.3,421.2) scale(0.9,1)" text-anchor="end">6</text>
<text class="se" transform="translate(36.3,375.2) scale(0.9,1)" text-anchor="end">7</text>
<text class="se" transform="translate(36.3,329.2) scale(0.9,1)" text-anchor="end">8</text>
<text class="se" transform="translate(36.3,283.2) scale(0.9,1)" text-anchor="end">9</text>
<text class="se" transform="translate(35.3,237.2) scale(0.9,1)" text-anchor="end">10</text>
<text class="se" transform="translate(35.3,192.2) scale(0.9,1)" text-anchor="end">1<tspan dx="-1">1</tspan></text>
<text class="se" transform="translate(35.3,146.2) scale(0.9,1)" text-anchor="end">12</text>
<text class="se" transform="translate(35.3,100.2) scale(0.9,1)" text-anchor="end">13</text>
<text class="se" transform="translate(35.3,54.2) scale(0.9,1)" text-anchor="end">1<tspan dx="-1.6">4</tspan></text>
<text class="se" transform="translate(59.5,708.3) scale(0.9,1)" text-anchor="middle">1</text>
<text class="se" transform="translate(88.5,708.3) scale(0.9,1)" text-anchor="middle">2</text>
<text class="se" transform="translate(117.5,708.3) scale(0.9,1)" text-anchor="middle">3</text>
<text class="se" transform="translate(146.5,708.3) scale(0.9,1)" text-anchor="middle">4</text>
<text class="se" transform="translate(175.5,708.3) scale(0.9,1)" text-anchor="middle">5</text>
<text class="se" transform="translate(204.5,708.3) scale(0.9,1)" text-anchor="middle">6</text>
<text class="se" transform="translate(233.5,708.3) scale(0.9,1)" text-anchor="middle">7</text>
<text class="se" transform="translate(262.5,708.3) scale(0.9,1)" text-anchor="middle">8</text>
<text class="se" transform="translate(291.5,708.3) scale(0.9,1)" text-anchor="middle">9</text>
<text class="se" transform="translate(320.5,708.3) scale(0.9,1)" text-anchor="middle">10</text>
<text class="se" transform="translate(349.5,708.3) scale(0.9,1)" text-anchor="middle">1<tspan dx="-1">1</tspan></text>
<text class="se" transform="translate(378.5,708.3) scale(0.9,1)" text-anchor="middle">12</text>
<text class="se" transform="translate(407.5,708.3) scale(0.9,1)" text-anchor="middle">13</text>
<text class="se" transform="translate(436.5,708.3) scale(0.9,1)" text-anchor="middle">1<tspan dx="-1.6">4</tspan></text>
<text class="se" transform="translate(465.5,708.3) scale(0.9,1)" text-anchor="middle">15</text>
<text class="se" transform="translate(494.5,708.3) scale(0.9,1)" text-anchor="middle">1<tspan dx="-1">6</tspan></text>
<text class="se" transform="translate(523.5,708.3) scale(0.9,1)" text-anchor="middle">1<tspan dx="-1">7</tspan></text>
<text class="se" transform="translate(552.5,708.3) scale(0.9,1)" text-anchor="middle">1<tspan dx="-1">8</tspan></text>
<text class="se" transform="translate(581.5,708.3) scale(0.9,1)" text-anchor="middle">1<tspan dx="-1">9</tspan></text>
<text class="se" transform="translate(610.5,708.3) scale(0.9,1)" text-anchor="middle">20</text>
<text class="se" transform="translate(639.5,708.3) scale(0.9,1)" text-anchor="middle">21</text>
<text class="se" transform="translate(668.5,708.3) scale(0.9,1)" text-anchor="middle">22</text>
<text class="se" transform="translate(697.5,708.3) scale(0.9,1)" text-anchor="middle">23</text>
<text class="se" transform="translate(726.5,708.3) scale(0.9,1)" text-anchor="middle">24</text>
<text class="se" transform="translate(755.5,708.3) scale(0.9,1)" text-anchor="middle">25</text>
<text class="se" transform="translate(784.5,708.3) scale(0.9,1)" text-anchor="middle">26</text>
<text class="se" transform="translate(813.5,708.3) scale(0.9,1)" text-anchor="middle">27</text>
<text class="se" transform="translate(842.5,708.3) scale(0.9,1)" text-anchor="middle">28</text>
<text class="se" transform="translate(871.5,708.3) scale(0.9,1)" text-anchor="middle">29</text>
<text class="se" transform="translate(900.5,708.3) scale(0.9,1)" text-anchor="middle">30</text>
<text class="se" transform="translate(929.5,708.3) scale(0.9,1)" text-anchor="middle">3<tspan dx="-1.8">1</tspan></text>
<text class="dj" font-size="13" x="59.5" y="672.0" text-anchor="middle">0.3</text>
<text class="dj" font-size="13" x="88.5" y="681.0" text-anchor="middle">0.1</text>
<text class="dj" font-size="13" x="117.5" y="636.0" text-anchor="middle">1.1</text>
<text class="dj" font-size="13" x="146.5" y="571.0" text-anchor="middle">2.5</text>
<text class="dj" font-size="13" x="175.5" y="640.0" text-anchor="middle">1.0</text>
<text class="dj" font-size="13" x="204.5" y="411.0" text-anchor="middle">6.0</text>
<text class="dj" font-size="13" x="233.5" y="617.0" text-anchor="middle">1.5</text>
<text class="dj" font-size="13" x="262.5" y="631.0" text-anchor="middle">1.2</text>
<text class="dj" font-size="13" x="291.5" y="640.0" text-anchor="middle">1.0</text>
<text class="dj" font-size="13" x="320.5" y="617.0" text-anchor="middle">1.5</text>
<text class="dj" font-size="13" x="349.5" y="548.0" text-anchor="middle">3.0</text>
<text class="dj" font-size="13" x="378.5" y="686.0" text-anchor="middle">0.0</text>
<text class="dj" font-size="13" x="407.5" y="686.0" text-anchor="middle">0.0</text>
<text class="dj" font-size="13" x="436.5" y="686.0" text-anchor="middle">0.0</text>
<text class="dj" font-size="13" x="465.5" y="571.0" text-anchor="middle">2.5</text>
<text class="dj" font-size="13" x="494.5" y="617.0" text-anchor="middle">1.5</text>
<text class="dj" font-size="13" x="523.5" y="365.0" text-anchor="middle">7.0</text>
<text class="dj" font-size="13" x="552.5" y="548.0" text-anchor="middle">3.0</text>
<text class="dj" font-size="13" x="581.5" y="626.0" text-anchor="middle">1.3</text>
<text class="dj" font-size="13" x="610.5" y="411.0" text-anchor="middle">6.0</text>
<text class="dj" font-size="13" x="639.5" y="571.0" text-anchor="middle">2.5</text>
<text class="dj" font-size="13" x="668.5" y="640.0" text-anchor="middle">1.0</text>
<text class="dj" font-size="13" x="697.5" y="90.0" text-anchor="middle">13.0</text>
<text class="dj" font-size="13" x="726.5" y="640.0" text-anchor="middle">1.0</text>
<text class="dj" font-size="13" x="755.5" y="457.0" text-anchor="middle">5.0</text>
<text class="dj" font-size="13" x="784.5" y="663.0" text-anchor="middle">0.5</text>
<text class="dj" font-size="13" x="813.5" y="548.0" text-anchor="middle">3.0</text>
<text class="dj" font-size="13" x="842.5" y="319.0" text-anchor="middle">8.0</text>
<text class="dj" font-size="13" x="871.5" y="603.0" text-anchor="middle">1.8</text>
<text class="dj" font-size="13" x="900.5" y="273.0" text-anchor="middle">9.0</text>
<text class="dj" font-size="13" x="929.5" y="548.0" text-anchor="middle">3.0</text>
<text class="dj" font-size="16" letter-spacing="0.15" x="494.3" y="721" text-anchor="middle">Day of Month</text>
<text class="dj" font-size="16" transform="translate(16,370.3) rotate(-90) scale(1.034,1)" text-anchor="middle">Snowfall (Inches)</text>
<text class="dj" font-size="13" letter-spacing="0.33" x="451.6" y="734" text-anchor="end">Record Snowfall</text>
<text class="dj" font-size="13" letter-spacing="0.33" x="654.3" y="734" text-anchor="end">Average Snowfall</text>
<text class="dj" font-size="11" transform="translate(7,747.5) scale(0.957,1)">Produced by the Wyoming Water Resources Data System/State Climate Office http://www.wrds.uwyo.edu</text>
<text class="dj" font-size="11" transform="translate(7,763) scale(0.957,1)">Data courtesy NOAA National Centers for Environmental Information http://www.ncei.noaa.gov</text>
<text class="dj" font-size="11" transform="translate(945.2,763) scale(0.96,1)" text-anchor="end">Created: 26-Sep-2024</text>
</svg></body></html>
